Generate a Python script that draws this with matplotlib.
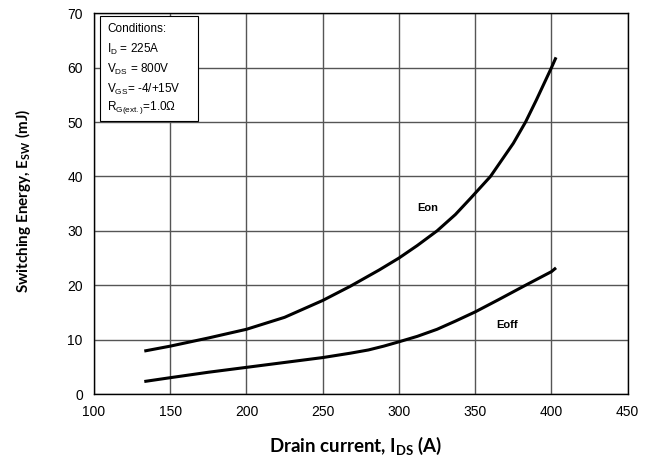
import numpy as np
import matplotlib.pyplot as plt

# Eon / Eoff vs drain current
ids_on = [133, 150, 175, 200, 225, 250, 268, 287, 300, 312, 325, 337, 347, 360, 375, 383, 390, 400, 403]
eon = [7.9, 8.8, 10.3, 11.9, 14.1, 17.2, 19.8, 22.8, 25.0, 27.3, 30.0, 33.0, 36.0, 40.0, 46.1, 50.0, 54.0, 60.0, 61.9]

ids_off = [133, 150, 175, 200, 225, 250, 268, 280, 290, 300, 312, 325, 337, 350, 365, 383, 400, 403]
eoff = [2.3, 3.0, 4.0, 4.9, 5.8, 6.7, 7.5, 8.1, 8.8, 9.6, 10.6, 11.9, 13.4, 15.1, 17.3, 20.0, 22.5, 23.2]

xticks = [100, 150, 200, 250, 300, 350, 400, 450]
yticks = [0, 10, 20, 30, 40, 50, 60, 70]

conditions = ["Conditions:",
              r"I$_\mathregular{D}$ = 225A",
              r"V$_\mathregular{DS}$ = 800V",
              r"V$_\mathregular{GS}$= -4/+15V",
              r"R$_\mathregular{G(ext.)}$=1.0Ω"]

plt.rcParams['font.family'] = ['Liberation Sans', 'DejaVu Sans']

fig = plt.figure(figsize=(6.59, 4.59), dpi=100)
ax = fig.add_axes([0.1426, 0.1416, 0.8099, 0.8294])

ax.plot(ids_on, eon, color='black', lw=2.2, solid_capstyle='butt', solid_joinstyle='round')
ax.plot(ids_off, eoff, color='black', lw=2.2, solid_capstyle='butt', solid_joinstyle='round')

ax.text(319, 34.2, "Eon", fontsize=8, fontweight='bold', ha='center', va='center')
ax.text(371, 12.7, "Eoff", fontsize=8, fontweight='bold', ha='center', va='center')

ax.set_xlim(100, 450)
ax.set_ylim(0, 70)
ax.set_xticks(xticks)
ax.set_yticks(yticks)
ax.tick_params(axis='both', length=0, labelsize=10, pad=8)
ax.grid(True, color='#555555', lw=1.0)
for s in ax.spines.values():
    s.set_color('black')
    s.set_linewidth(1.0)

# conditions box
fig.patches.append(plt.Rectangle((100 / 659, 1 - 121 / 459), (197.7 - 100) / 659,
                                 (121 - 15.7) / 459, transform=fig.transFigure,
                                 facecolor='white', edgecolor='black', lw=0.8, zorder=5))
line_y = [29, 49, 69, 89, 108]
for txt, yy in zip(conditions, line_y):
    fig.text(107 / 659, 1 - yy / 459, txt, fontsize=8.5, va='center', ha='left', zorder=6)

fig.text(356 / 659, 1 - 446 / 459, r"Drain current, I$_\mathregular{DS}$ (A)",
         fontsize=13.5, fontweight='bold', family=['Lato', 'DejaVu Sans'],
         ha='center', va='center')
fig.text(23 / 659, 1 - 201 / 459, r"Switching Energy, E$_\mathregular{SW}$ (mJ)",
         fontsize=11, fontweight='bold', family=['Lato', 'DejaVu Sans'],
         rotation=90, ha='center', va='center')

fig.savefig('out.png', dpi=100)
